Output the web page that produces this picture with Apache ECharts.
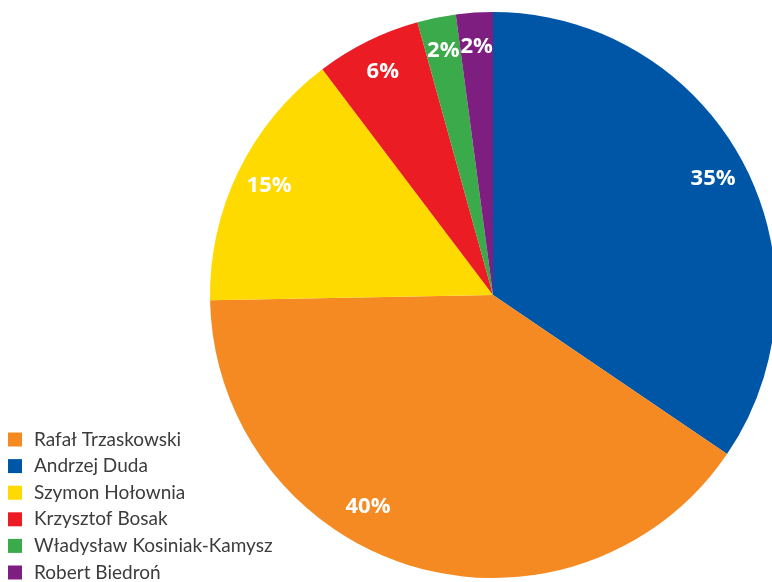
<!DOCTYPE html>
<html>
<head>
<meta charset="utf-8">
<script src="https://cdn.jsdelivr.net/npm/echarts@6/dist/echarts.min.js"></script>
<style>
  html, body { margin: 0; padding: 0; background: #fff; }
  #chart { width: 772px; height: 582px; }
</style>
</head>
<body>
<div id="chart"></div>
<script>
// slices in clockwise order from 12 o'clock
const candidates = ["Andrzej Duda", "Rafał Trzaskowski", "Szymon Hołownia", "Krzysztof Bosak", "Władysław Kosiniak-Kamysz", "Robert Biedroń"];
const shares = [34.5, 40.2, 15.0, 6.0, 2.2, 2.1];
const colors = ["#0056A6", "#F48A21", "#FFDA00", "#EC1C24", "#3BAA4A", "#7E1E81"];
// legend lists them in a different order
const legendOrder = ["Rafał Trzaskowski", "Andrzej Duda", "Szymon Hołownia", "Krzysztof Bosak", "Władysław Kosiniak-Kamysz", "Robert Biedroń"];

const chart = echarts.init(document.getElementById("chart"));

const pieData = candidates.map((name, i) => ({
  name,
  value: shares[i],
  itemStyle: { color: colors[i] },
}));

const option = {
  animation: false,
  legend: {
    data: legendOrder,
    orient: "vertical",
    left: 8,
    top: 430,
    height: 170,
    padding: 0,
    icon: "rect",
    itemWidth: 14,
    itemHeight: 14,
    itemGap: 7.6,
    selectedMode: false,
    textStyle: { color: "#3c3c3c", fontSize: 19, fontFamily: "Lato", padding: [0, 0, 0, 7] },
  },
  series: [
    {
      name: "pie",
      type: "pie",
      center: [493, 295],
      radius: [0, 283],
      startAngle: 90,
      clockwise: true,
      silent: true,
      label: { show: false },
      labelLine: { show: false },
      itemStyle: { borderWidth: 0 },
      data: pieData,
    },
    {
      // transparent ring only to place the percent labels near the rim
      name: "labels",
      type: "pie",
      center: [493, 295],
      radius: [209, 283],
      startAngle: 90,
      clockwise: true,
      silent: true,
      z: 5,
      itemStyle: { color: "transparent", borderWidth: 0 },
      label: {
        show: true,
        position: "inside",
        color: "#fff",
        fontSize: 22,
        fontWeight: "bold",
        fontFamily: "Open Sans",
        formatter: (p) => Math.round(p.value) + "%",
      },
      labelLine: { show: false },
      // the 40% label sits a bit left of its slice middle in the original
      labelLayout: (p) => (p.dataIndex === 1 ? { dx: -54, dy: -27 } : {}),
      data: candidates.map((name, i) => ({ name, value: shares[i] })),
    },
  ],
};

chart.setOption(option);
</script>
</body>
</html>
